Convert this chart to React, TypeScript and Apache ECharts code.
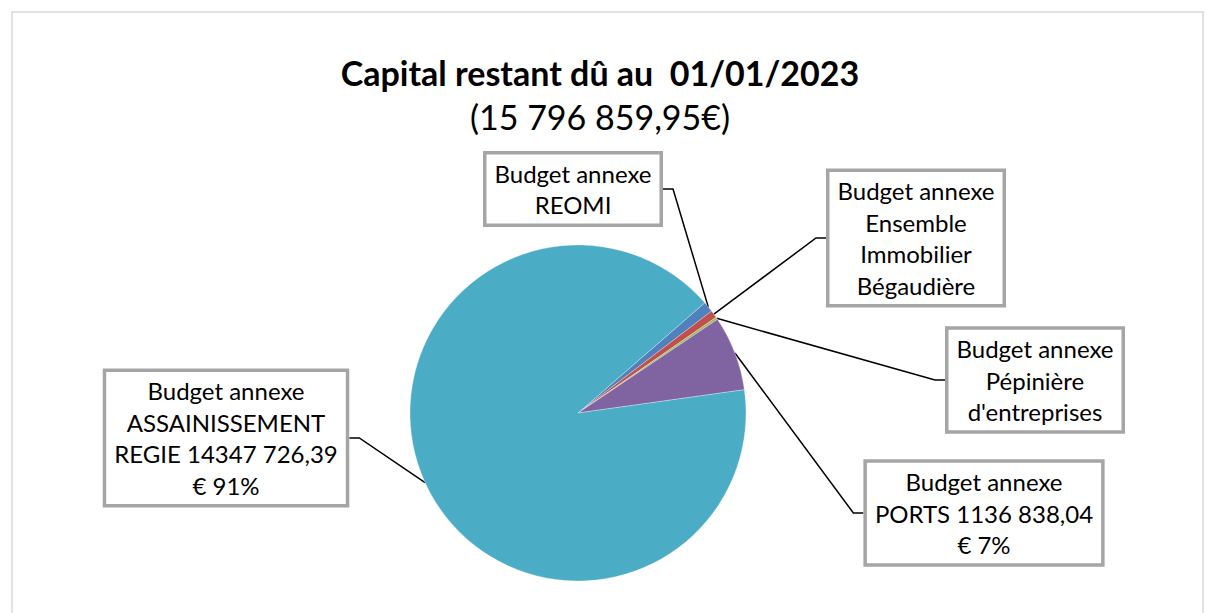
import React, { useEffect, useRef } from "react";
import * as echarts from "echarts";

const categories = [
  "Budget annexe\nREOMI",
  "Budget annexe\nEnsemble\nImmobilier\nBégaudière",
  "Budget annexe\nPépinière\nd'entreprises",
  "Budget annexe\nPORTS",
  "Budget annexe\nASSAINISSEMENT\nREGIE",
];
const values = [161000, 114700, 36595.52, 1136838.04, 14347726.39];
const showValue = [false, false, false, true, true];
const colors = ["#4F81BD", "#C0504D", "#9BBB59", "#8064A2", "#4BACC6"];
const titleText = "Capital restant dû au  01/01/2023";
const subText = "(15 796 859,95€)";

// label box centres (layout only)
const labelPos: [number, number][] = [
  [573, 189],
  [916, 238],
  [1035, 380],
  [984, 513],
  [226, 438],
];

function fmt(v: number): string {
  const cents = Math.round(v * 100);
  const intPart = Math.floor(cents / 100);
  const dec = String(cents % 100).padStart(2, "0");
  const hi = Math.floor(intPart / 1000);
  const lo = String(intPart % 1000).padStart(3, "0");
  return hi + " " + lo + "," + dec;
}

const FONT = "Lato, 'Open Sans', sans-serif";

export default function App() {
  const ref = useRef<HTMLDivElement>(null);
  useEffect(() => {
    if (!ref.current) return;
    const chart = echarts.init(ref.current, undefined, { renderer: "svg" });
    chart.setOption({
      animation: false,
      backgroundColor: "#fff",
      title: {
        text: titleText,
        subtext: subText,
        left: 595,
        textAlign: "center",
        top: 50,
        itemGap: 10,
        textStyle: { fontFamily: FONT, fontSize: 34, fontWeight: "bold", color: "#000" },
        subtextStyle: { fontFamily: FONT, fontSize: 34, color: "#000" },
      },
      graphic: [
        {
          type: "rect",
          shape: { x: 12, y: 12, width: 1191, height: 700 },
          style: { fill: "none", stroke: "#D9D9D9", lineWidth: 1.5 },
          silent: true,
        },
      ],
      series: [
        {
          type: "pie",
          center: [578, 413],
          radius: 168,
          startAngle: 41,
          clockwise: true,
          avoidLabelOverlap: false,
          itemStyle: { borderColor: "#fff", borderWidth: 0.3 },
          label: {
            show: true,
            position: "outside",
            fontFamily: FONT,
            fontSize: 24,
            lineHeight: 31.5,
            color: "#000",
            backgroundColor: "#fff",
            borderColor: "#A5A5A5",
            borderWidth: 3.5,
            padding: [3, 8],
            align: "center",
            formatter: (p: any) => {
              const i = p.dataIndex;
              let s = p.name;
              if (showValue[i]) s += " " + fmt(p.value) + "\n€ " + Math.round(p.percent) + "%";
              return s;
            },
          },
          labelLine: {
            show: true,
            length: 20,
            length2: 10,
            lineStyle: { color: "#000", width: 1.5 },
          },
          labelLayout: (params: any) => {
            const pos = labelPos[params.dataIndex];
            return { x: pos[0], y: pos[1], align: "center", verticalAlign: "middle" };
          },
          data: categories.map((c, i) => ({
            name: c,
            value: values[i],
            itemStyle: { color: colors[i] },
          })),
        },
      ],
    });
    return () => chart.dispose();
  }, []);
  return (
    <div
      ref={ref}
      style={{ position: "fixed", left: 0, top: 0, width: 1206, height: 613 }}
    />
  );
}
